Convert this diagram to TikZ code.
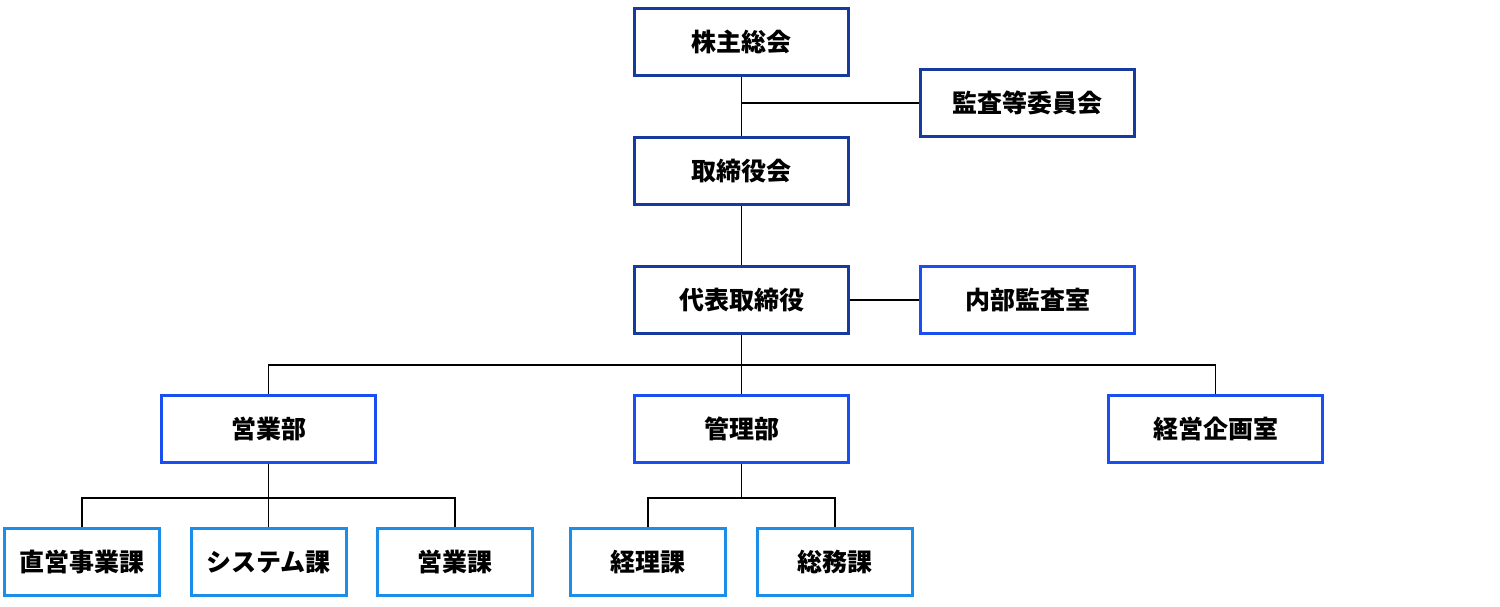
\documentclass[tikz,border=0pt]{standalone}
\usepackage{fontspec}
\newfontfamily\cjk{Noto Sans CJK JP}
\usetikzlibrary{positioning}
\definecolor{darkblue}{HTML}{173A9E}
\definecolor{midblue}{HTML}{1B4EF0}
\definecolor{lightblue}{HTML}{1A8EE8}
\tikzset{
	box/.style={draw=#1, line width=3pt, fill=white, text=black, minimum width=214pt, minimum height=67pt, font=\cjk\bfseries\fontsize{25pt}{29pt}\selectfont, inner sep=0pt},
	small/.style={box=#1, minimum width=155pt},
	link/.style={line width=1.8pt, black}
}
\begin{document}
\begin{tikzpicture}[x=1pt, y=-1pt]
				\useasboundingbox (0,0) rectangle (1500,606);
				
				\coordinate (J1) at (741.5,103);
				\coordinate (J2) at (741.5,365);
				\coordinate (J3) at (268.5,498);
				\coordinate (J4) at (741.5,498);
				
				% connectors first, boxes cover them
				\draw[link] (741.5,42) -- (741.5,171);
				\draw[link] (J1) -- (1027.5,103);
				\draw[link] (741.5,171) -- (741.5,429);
				\draw[link] (741.5,300) -- (1027.5,300);
				\draw[link] (268.5,429) |- (J2) -| (1215.5,429);
				\draw[link] (268.5,429) -- (268.5,562);
				\draw[link] (82,562) |- (J3) -| (455,562);
				\draw[link] (741.5,429) -- (J4);
				\draw[link] (648,562) |- (J4) -| (835,562);
				
				\node[box=darkblue] (GM) at (741.5,42) {株主総会};
				\node[box=darkblue] (AC) at (1027.5,103) {監査等委員会};
				\node[box=darkblue] (BD) at (741.5,171) {取締役会};
				\node[box=darkblue] (CEO) at (741.5,300) {代表取締役};
				\node[box=midblue] (IA) at (1027.5,300) {内部監査室};
				
				\node[box=midblue] (SD) at (268.5,429) {営業部};
				\node[box=midblue] (AD) at (741.5,429) {管理部};
				\node[box=midblue] (PL) at (1215.5,429) {経営企画室};
				
				\node[small=lightblue] (S1) at (82,562) {直営事業課};
				\node[small=lightblue] (S2) at (268.5,562) {システム課};
				\node[small=lightblue] (S3) at (455,562) {営業課};
				\node[small=lightblue] (A1) at (648,562) {経理課};
				\node[small=lightblue] (A2) at (835,562) {総務課};
				
			\end{tikzpicture}
\end{document}
